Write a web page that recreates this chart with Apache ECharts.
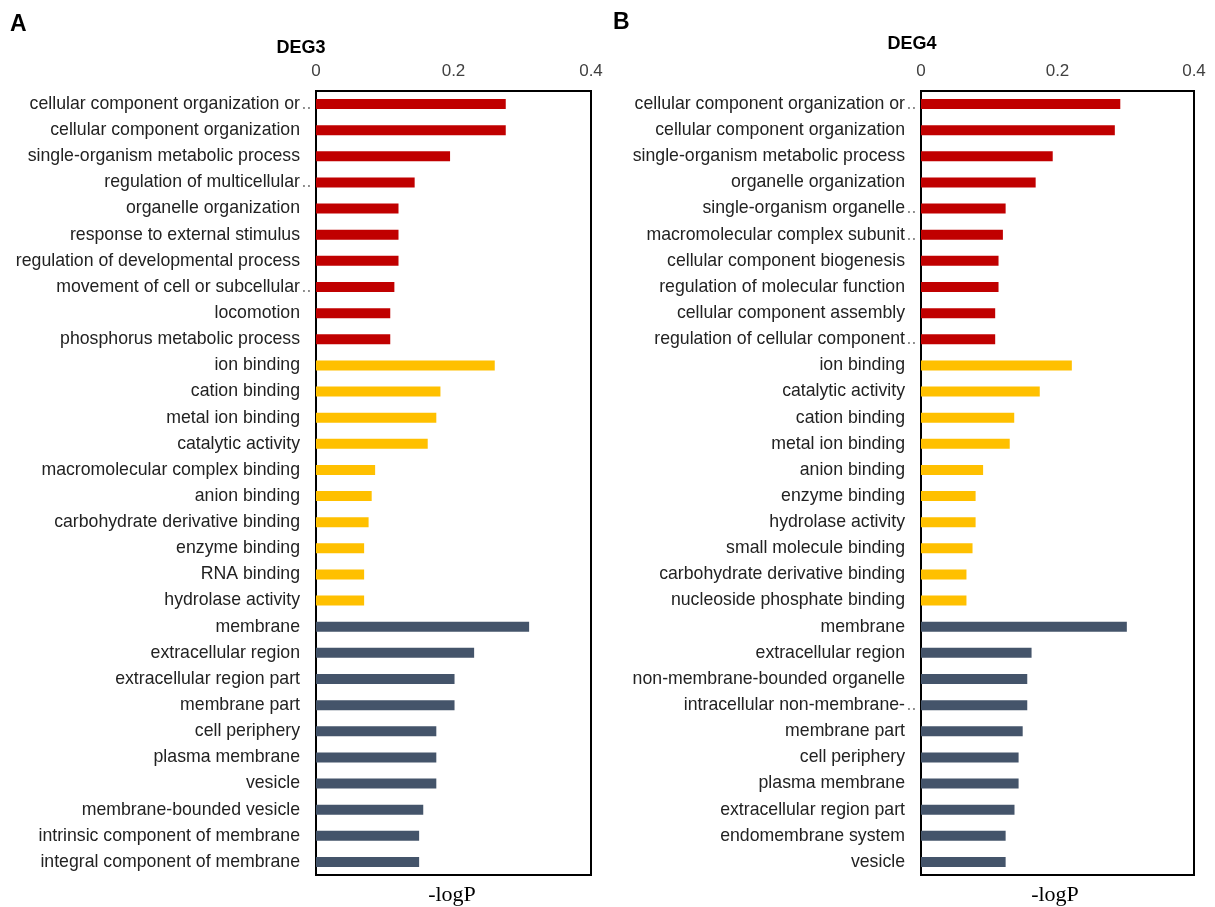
<!DOCTYPE html>
<html>
<head>
<meta charset="utf-8">
<script src="https://cdn.jsdelivr.net/npm/echarts@6/dist/echarts.min.js"></script>
<style>
  html, body { margin: 0; padding: 0; background: #fff; }
  #chart { width: 1215px; height: 907px; }
</style>
</head>
<body>
<div id="chart"></div>
<script>
// GO enrichment terms (-logP), grouped as biological process / molecular function / cellular component
const deg3BP = ['cellular component organization or..', 'cellular component organization', 'single-organism metabolic process', 'regulation of multicellular..', 'organelle organization', 'response to external stimulus', 'regulation of developmental process', 'movement of cell or subcellular..', 'locomotion', 'phosphorus metabolic process'];
const deg3BPValues = [0.276, 0.276, 0.195, 0.1435, 0.120, 0.120, 0.120, 0.114, 0.108, 0.108];
const deg3MF = ['ion binding', 'cation binding', 'metal ion binding', 'catalytic activity', 'macromolecular complex binding', 'anion binding', 'carbohydrate derivative binding', 'enzyme binding', 'RNA binding', 'hydrolase activity'];
const deg3MFValues = [0.260, 0.181, 0.175, 0.1625, 0.086, 0.081, 0.0765, 0.070, 0.070, 0.070];
const deg3CC = ['membrane', 'extracellular region', 'extracellular region part', 'membrane part', 'cell periphery', 'plasma membrane', 'vesicle', 'membrane-bounded vesicle', 'intrinsic component of membrane', 'integral component of membrane'];
const deg3CCValues = [0.310, 0.230, 0.2015, 0.2015, 0.175, 0.175, 0.175, 0.156, 0.150, 0.150];

const deg4BP = ['cellular component organization or..', 'cellular component organization', 'single-organism metabolic process', 'organelle organization', 'single-organism organelle..', 'macromolecular complex subunit..', 'cellular component biogenesis', 'regulation of molecular function', 'cellular component assembly', 'regulation of cellular component..'];
const deg4BPValues = [0.292, 0.284, 0.193, 0.168, 0.124, 0.120, 0.1136, 0.1136, 0.1087, 0.1087];
const deg4MF = ['ion binding', 'catalytic activity', 'cation binding', 'metal ion binding', 'anion binding', 'enzyme binding', 'hydrolase activity', 'small molecule binding', 'carbohydrate derivative binding', 'nucleoside phosphate binding'];
const deg4MFValues = [0.221, 0.174, 0.1366, 0.130, 0.091, 0.080, 0.080, 0.0755, 0.0666, 0.0666];
const deg4CC = ['membrane', 'extracellular region', 'non-membrane-bounded organelle', 'intracellular non-membrane-..', 'membrane part', 'cell periphery', 'plasma membrane', 'extracellular region part', 'endomembrane system', 'vesicle'];
const deg4CCValues = [0.3016, 0.162, 0.1557, 0.1557, 0.149, 0.143, 0.143, 0.137, 0.124, 0.124];

const xTicks = [0, 0.2, 0.4];
const groupColors = ['#C00000', '#FFC000', '#44546A'];
const panelTitles = ['DEG3', 'DEG4'];
const panelLetters = ['A', 'B'];
const axisTitle = '-logP';

const labelFont = 'Liberation Sans, Arial, sans-serif';
const labelColor = '#222';

function buildPanel(groups) {
  const names = [], data = [];
  groups.forEach(([terms, values], g) => {
    terms.forEach((t, i) => {
      names.push(t);
      data.push({ value: values[i], itemStyle: { color: groupColors[g] } });
    });
  });
  return { names, data };
}

const panels = [
  buildPanel([[deg3BP, deg3BPValues], [deg3MF, deg3MFValues], [deg3CC, deg3CCValues]]),
  buildPanel([[deg4BP, deg4BPValues], [deg4MF, deg4MFValues], [deg4CC, deg4CCValues]])
];

// truncated terms keep their trailing dots right next to the axis
function termLabel(name) {
  if (name.endsWith('..')) return '{t|' + name.slice(0, -2) + '}{d|..}';
  return '{t|' + name + '}{p| }';
}

const grids = [
  { left: 316, width: 275, top: 91, bottom: 32 },
  { left: 921, width: 273, top: 91, bottom: 32 }
];

const chart = echarts.init(document.getElementById('chart'), null, { renderer: 'canvas' });

chart.setOption({
  backgroundColor: '#fff',
  animation: false,
  title: [
    { text: panelLetters[0], left: 5, top: 8, textStyle: { fontFamily: labelFont, fontSize: 23, fontWeight: 'bold', color: '#000' } },
    { text: panelLetters[1], left: 608, top: 6, textStyle: { fontFamily: labelFont, fontSize: 23, fontWeight: 'bold', color: '#000' } },
    { text: panelTitles[0], left: 296, top: 34, textAlign: 'center', textStyle: { fontFamily: labelFont, fontSize: 18, fontWeight: 'bold', color: '#000' } },
    { text: panelTitles[1], left: 907, top: 30, textAlign: 'center', textStyle: { fontFamily: labelFont, fontSize: 18, fontWeight: 'bold', color: '#000' } },
    { text: axisTitle, left: 447, top: 879, textAlign: 'center', textStyle: { fontFamily: 'Liberation Serif, Times New Roman, serif', fontSize: 22, fontWeight: 'normal', color: '#000' } },
    { text: axisTitle, left: 1050, top: 879, textAlign: 'center', textStyle: { fontFamily: 'Liberation Serif, Times New Roman, serif', fontSize: 22, fontWeight: 'normal', color: '#000' } }
  ],
  grid: grids.map(g => Object.assign({ show: true, borderColor: '#000', borderWidth: 2, backgroundColor: 'transparent' }, g)),
  xAxis: [0, 1].map(i => ({
    type: 'value',
    gridIndex: i,
    position: 'top',
    min: xTicks[0],
    max: xTicks[xTicks.length - 1],
    interval: xTicks[1] - xTicks[0],
    splitLine: { show: false },
    axisLine: { show: false },
    axisTick: { show: false },
    axisLabel: {
      margin: 11,
      fontFamily: labelFont,
      fontSize: 17,
      color: '#404040',
      formatter: v => (v === 0 ? '0' : v.toFixed(1))
    }
  })),
  yAxis: [0, 1].map(i => ({
    type: 'category',
    gridIndex: i,
    inverse: true,
    data: panels[i].names,
    axisLine: { show: false },
    axisTick: { show: false },
    splitLine: { show: false },
    axisLabel: {
      interval: 0,
      margin: 3,
      align: 'right',
      formatter: termLabel,
      rich: {
        t: { fontFamily: labelFont, fontSize: 17.7, color: labelColor },
        d: { fontFamily: labelFont, fontSize: 17.7, color: '#7f7f7f', width: 13, align: 'left' },
        p: { fontFamily: labelFont, fontSize: 17.7, width: 13 }
      }
    }
  })),
  series: [0, 1].map(i => ({
    type: 'bar',
    xAxisIndex: i,
    yAxisIndex: i,
    barWidth: 10,
    data: panels[i].data
  }))
});
</script>
</body>
</html>
